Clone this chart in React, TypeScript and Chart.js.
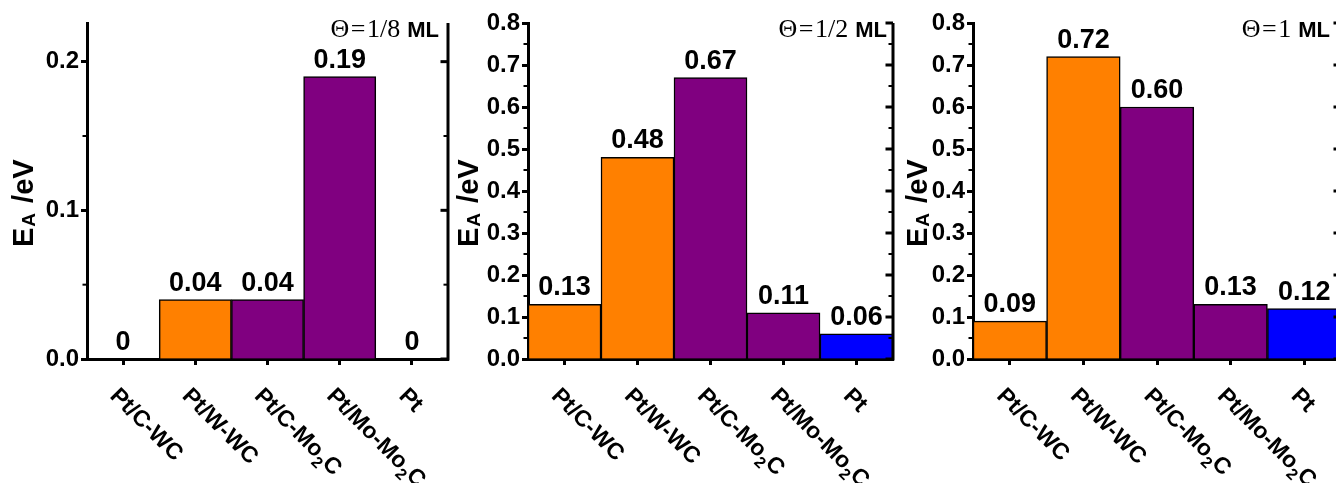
import React, { useEffect, useRef } from "react";
import { Chart, registerables } from "chart.js";

Chart.register(...registerables);

// ---------- data ----------
const categories = ["Pt/C-WC", "Pt/W-WC", "Pt/C-Mo₂C", "Pt/Mo-Mo₂C", "Pt"];
const barColors = ["#FF8000", "#FF8000", "#800080", "#800080", "#0000FF"];
const eaEighthML = [0, 0.04, 0.04, 0.19, 0];
const eaHalfML = [0.13, 0.48, 0.67, 0.11, 0.06];
const eaFullML = [0.09, 0.72, 0.6, 0.13, 0.12];
const coverageSymbol = "Θ";
const coverageFractions = ["1/8", "1/2", "1"];
const coverageUnit = "ML";
const yMaxValues = [0.226, 0.8, 0.8];
const yMajorStep = 0.1;
const yMinorStep = 0.05;
const yTitleMain = "E";
const yTitleSub = "A";
const yTitleRest = " /eV";

const panelValues = [eaEighthML, eaHalfML, eaFullML];

// ---------- layout ----------
const H = 483;
const TOP = 23;
const BOTTOM = 359;
const PANELS = [
  { left: 0, width: 460, axisLeft: 87, axisRight: 448, titleX: 33, noteGap: 9 },
  { left: 440, width: 460, axisLeft: 528, axisRight: 893, titleX: 478, noteGap: 6 },
  { left: 880, width: 470, axisLeft: 973, axisRight: 1341, titleX: 927, noteGap: 11 },
];
const SANS = '"Liberation Sans", Arial, sans-serif';
const SERIF = '"Liberation Serif", "Times New Roman", serif';

function fmtValue(v: number) {
  return v === 0 ? "0" : v.toFixed(2);
}

function drawRich(ctx: CanvasRenderingContext2D, text: string, size: number) {
  // draws text at (0,0) with "₂" rendered as a subscript 2
  let x = 0;
  const parts = text.split("₂");
  parts.forEach((part, idx) => {
    ctx.font = `bold ${size}px ${SANS}`;
    ctx.fillText(part, x, 0);
    x += ctx.measureText(part).width;
    if (idx < parts.length - 1) {
      const sub = Math.round(size * 0.68);
      ctx.font = `bold ${sub}px ${SANS}`;
      ctx.fillText("2", x, size * 0.28);
      x += ctx.measureText("2").width;
    }
  });
}

function makeDecor(panelIndex: number) {
  const p = PANELS[panelIndex];
  return {
    id: "panelDecor" + panelIndex,
    afterDraw(chart: any) {
      const ctx: CanvasRenderingContext2D = chart.ctx;
      const { top, bottom, left, right } = chart.chartArea;
      const ys = chart.scales.y;
      const xs = chart.scales.x;
      ctx.save();
      ctx.strokeStyle = "#000";
      ctx.fillStyle = "#000";
      ctx.lineCap = "butt";

      // right axis line
      ctx.lineWidth = 3;
      ctx.beginPath();
      ctx.moveTo(right, top);
      ctx.lineTo(right, bottom + 1.5);
      ctx.stroke();

      // ticks: right inward (major + minor), left outward minor
      const n = Math.floor(ys.max / yMinorStep + 1e-6);
      for (let k = 0; k <= n; k++) {
        const v = k * yMinorStep;
        const py = ys.getPixelForValue(v);
        const major = k % 2 === 0;
        const len = major ? 6 : 3;
        ctx.lineWidth = major ? 3 : 2;
        ctx.beginPath();
        ctx.moveTo(right, py);
        ctx.lineTo(right - 1.5 - len, py);
        ctx.stroke();
        if (!major) {
          ctx.beginPath();
          ctx.moveTo(left, py);
          ctx.lineTo(left - 1.5 - len, py);
          ctx.stroke();
        }
      }

      // value labels above bars
      const meta = chart.getDatasetMeta(0);
      const vals = panelValues[panelIndex];
      ctx.font = `bold 27px ${SANS}`;
      ctx.textAlign = "center";
      ctx.textBaseline = "alphabetic";
      meta.data.forEach((bar: any, i: number) => {
        ctx.fillText(fmtValue(vals[i]), bar.x, bar.y - 9);
      });

      // rotated category labels
      ctx.textAlign = "left";
      categories.forEach((label, i) => {
        const tx = xs.getPixelForValue(i);
        ctx.save();
        ctx.translate(tx - 14, bottom + 38);
        ctx.rotate(Math.PI / 4);
        drawRich(ctx, label, 23);
        ctx.restore();
      });

      // y axis title  E_A /eV
      ctx.save();
      ctx.translate(p.titleX - p.left, 247);
      ctx.rotate(-Math.PI / 2);
      ctx.textAlign = "left";
      ctx.font = `bold 29px ${SANS}`;
      ctx.fillText(yTitleMain, 0, 0);
      let tx = ctx.measureText(yTitleMain).width + 1;
      ctx.font = `bold 19px ${SANS}`;
      ctx.fillText(yTitleSub, tx, 2);
      tx += ctx.measureText(yTitleSub).width + 2;
      ctx.font = `bold 29px ${SANS}`;
      ctx.fillText(yTitleRest, tx, 0);
      ctx.restore();

      // coverage annotation  Θ=… ML
      const endX = right - p.noteGap;
      const baseY = top + 14;
      ctx.textAlign = "left";
      ctx.font = `bold 22px ${SANS}`;
      const unitW = ctx.measureText(coverageUnit).width;
      ctx.font = `26px ${SERIF}`;
      const pieces = [coverageSymbol, "=", coverageFractions[panelIndex]];
      const gap = 1.5;
      const widths = pieces.map((s) => ctx.measureText(s).width);
      const serifW = widths.reduce((a, b) => a + b, 0) + gap * 2;
      let cx = endX - unitW - 7 - serifW;
      pieces.forEach((s, i) => {
        ctx.fillText(s, cx, baseY);
        cx += widths[i] + gap;
      });
      ctx.font = `bold 22px ${SANS}`;
      ctx.fillText(coverageUnit, endX - unitW, baseY);

      ctx.restore();
    },
  };
}

function makeConfig(panelIndex: number): any {
  const p = PANELS[panelIndex];
  const localLeft = p.axisLeft - p.left;
  const localRight = p.axisRight - p.left;
  return {
    type: "bar",
    data: {
      labels: categories,
      datasets: [
        {
          data: panelValues[panelIndex],
          backgroundColor: (c: any) => (c.raw === 0 ? "rgba(0,0,0,0)" : barColors[c.dataIndex]),
          borderColor: "#000",
          borderWidth: (c: any) => (c.raw === 0 ? 0 : 1.5),
          categoryPercentage: 1,
          barPercentage: 1,
        },
      ],
    },
    options: {
      responsive: false,
      maintainAspectRatio: false,
      animation: false,
      events: [],
      layout: {
        padding: { left: 0, right: p.width - localRight, top: TOP, bottom: H - BOTTOM - 10 },
      },
      plugins: {
        legend: { display: false },
        tooltip: { enabled: false },
        title: { display: false },
      },
      scales: {
        x: {
          type: "category",
          offset: true,
          z: 1,
          grid: {
            display: true,
            offset: false,
            drawOnChartArea: false,
            drawTicks: true,
            tickLength: 6,
            tickWidth: 3,
            tickColor: "#000",
          },
          border: { display: true, color: "#000", width: 3 },
          ticks: { display: false },
          afterFit: (s: any) => {
            s.height = 10;
          },
        },
        y: {
          min: 0,
          max: yMaxValues[panelIndex],
          z: 1,
          ticks: {
            stepSize: yMajorStep,
            includeBounds: false,
            color: "#000",
            padding: 2,
            font: { family: SANS, size: 24, weight: "bold" },
            callback: (v: number) => Number(v).toFixed(1),
          },
          grid: {
            display: true,
            drawOnChartArea: false,
            drawTicks: true,
            tickLength: 6,
            tickWidth: 3,
            tickColor: "#000",
          },
          border: { display: true, color: "#000", width: 3 },
          afterFit: (s: any) => {
            s.width = localLeft;
          },
        },
      },
    },
    plugins: [makeDecor(panelIndex)],
  };
}

export default function App() {
  const r0 = useRef<HTMLCanvasElement>(null);
  const r1 = useRef<HTMLCanvasElement>(null);
  const r2 = useRef<HTMLCanvasElement>(null);
  const refs = [r0, r1, r2];

  useEffect(() => {
    const charts = refs.map((r, i) => new Chart(r.current as HTMLCanvasElement, makeConfig(i)));
    return () => charts.forEach((c) => c.destroy());
  }, []);

  return (
    <div
      style={{
        position: "absolute",
        left: 0,
        top: 0,
        width: 1336,
        height: H,
        overflow: "hidden",
        background: "#fff",
      }}
    >
      {PANELS.map((p, i) => (
        <canvas
          key={i}
          ref={refs[i]}
          width={p.width}
          height={H}
          style={{ position: "absolute", left: p.left, top: 0, width: p.width, height: H }}
        />
      ))}
    </div>
  );
}
